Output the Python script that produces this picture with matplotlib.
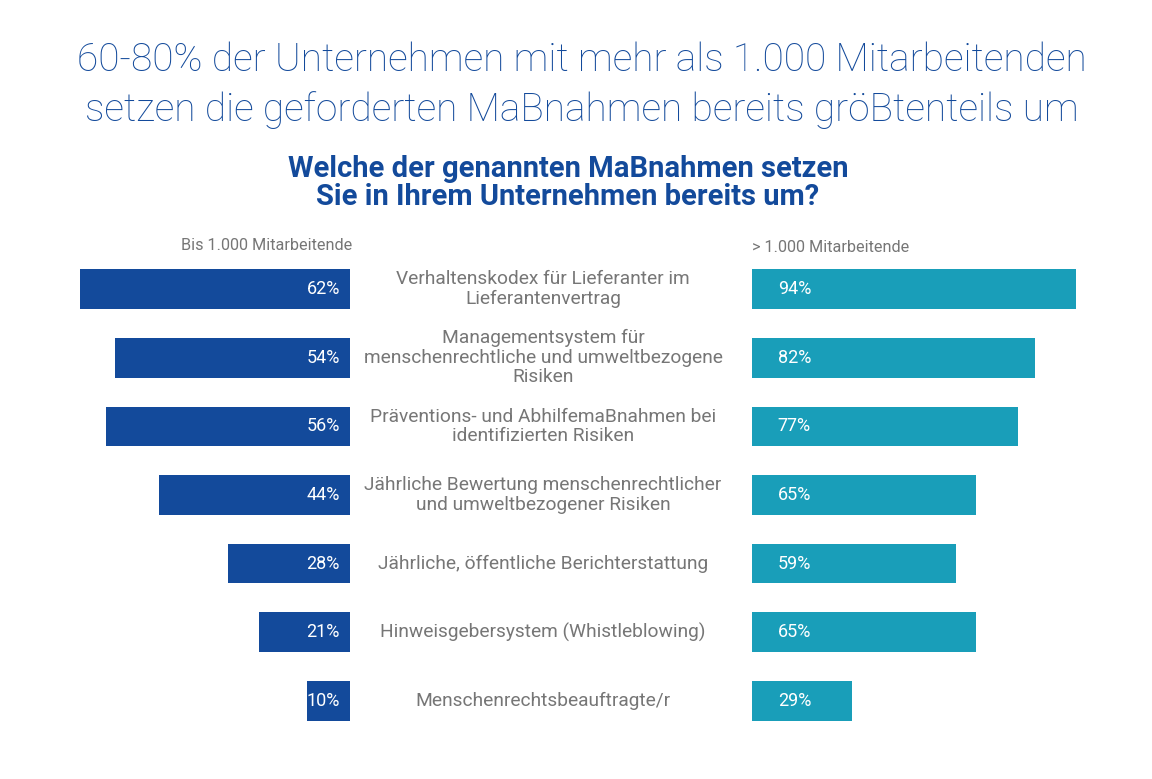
import matplotlib.pyplot as plt

# data
measures = [
    'Verhaltenskodex für Lieferanter im\nLieferantenvertrag',
    'Managementsystem für\nmenschenrechtliche und umweltbezogene\nRisiken',
    'Präventions- und AbhilfemaBnahmen bei\nidentifizierten Risiken',
    'Jährliche Bewertung menschenrechtlicher\nund umweltbezogener Risiken',
    'Jährliche, öffentliche Berichterstattung',
    'Hinweisgebersystem (Whistleblowing)',
    'Menschenrechtsbeauftragte/r',
]
small_firms = [62, 54, 56, 44, 28, 21, 10]
large_firms = [94, 82, 77, 65, 59, 65, 29]

dark_blue = '#134a9b'
teal = '#199eb9'
grey = '#767676'

plt.rcParams['font.family'] = ['Roboto', 'DejaVu Sans']

W, H = 1152, 779
fig = plt.figure(figsize=(W / 100, H / 100), dpi=100)
fig.patch.set_facecolor('white')

top_px, bot_px = 255, 735
ypos = list(range(len(measures)))

# left panel (bars grow to the left, end at x=350)
left_x0, left_x1 = 20, 350
ax1 = fig.add_axes([left_x0 / W, 1 - bot_px / H, (left_x1 - left_x0) / W, (bot_px - top_px) / H])
ax1.barh(ypos, small_firms, height=0.58, color=dark_blue)
ax1.set_xlim((left_x1 - left_x0) / 4.35, 0)
ax1.set_ylim(6.5, -0.5)
for y, v in zip(ypos, small_firms):
    ax1.text(2.3, y, '%d%%' % v, ha='right', va='center', color='white', fontsize=13)

# right panel (bars start at x=752)
right_x0, right_x1 = 752, 1140
ax2 = fig.add_axes([right_x0 / W, 1 - bot_px / H, (right_x1 - right_x0) / W, (bot_px - top_px) / H])
ax2.barh(ypos, large_firms, height=0.58, color=teal)
ax2.set_xlim(0, (right_x1 - right_x0) / 3.45)
ax2.set_ylim(6.5, -0.5)
for y, v in zip(ypos, large_firms):
    ax2.text(7.5, y, '%d%%' % v, ha='left', va='center', color='white', fontsize=13)

for ax in (ax1, ax2):
    ax.axis('off')

# category labels in the middle
for y, lab in zip(ypos, measures):
    fy = 1 - (289 + y * 68.7) / H
    fig.text(543 / W, fy, lab, ha='center', va='center', color=grey, fontsize=13.8,
             linespacing=1.1)

fig.text(352 / W, 1 - 246 / H, 'Bis 1.000 Mitarbeitende', ha='right', va='center',
         color=grey, fontsize=11.7)
fig.text(752 / W, 1 - 247 / H, '> 1.000 Mitarbeitende', ha='left', va='center',
         color=grey, fontsize=11.7)

fig.text(582 / W, 1 - 85 / H, '60-80% der Unternehmen mit mehr als 1.000 Mitarbeitenden\n'
         'setzen die geforderten MaBnahmen bereits gröBtenteils um',
         ha='center', va='center', color=dark_blue, fontsize=28, fontweight='light',
         linespacing=1.4)
fig.text(568 / W, 1 - 183 / H, 'Welche der genannten MaBnahmen setzen\n'
         'Sie in Ihrem Unternehmen bereits um?',
         ha='center', va='center', color=dark_blue, fontsize=21, fontweight='bold',
         linespacing=1.0)

plt.savefig('out.png', dpi=100)
